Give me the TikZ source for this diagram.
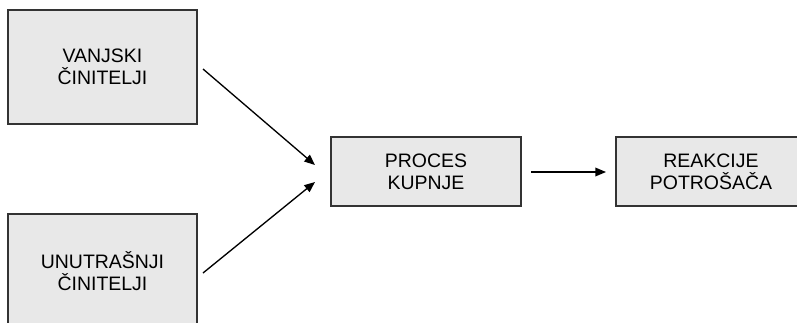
\documentclass[tikz,border=0pt]{standalone}
\usepackage{fontspec}
\setmainfont{Liberation Sans}
\usepackage{tikz}
\usetikzlibrary{arrows.meta}

\definecolor{boxfill}{HTML}{E8E8E8}
\definecolor{boxline}{HTML}{333333}

\tikzset{
    faktor/.style={draw=boxline, fill=boxfill, line width=0.8pt, align=center,
        inner sep=0pt, font=\fontsize{14.6}{16.5}\selectfont},
    tok/.style={line width=1pt, -{Triangle[length=8pt,width=6.5pt]}}
}

\begin{document}
\begin{tikzpicture}[x=0.75pt, y=-0.75pt]
    \useasboundingbox (0,0) rectangle (797,322);
    \clip (0,0) rectangle (797,322);

    \node[faktor, minimum width=141.75pt, minimum height=85.5pt] (vanjski) at (102.5,67) {VANJSKI\\ČINITELJI};
    \node[faktor, minimum width=141.75pt, minimum height=85.5pt] (unutarnji) at (102.5,271) {UNUTRAŠNJI\\ČINITELJI};
    \node[faktor, minimum width=142.5pt, minimum height=51.75pt] (proces) at (426,171.5) {PROCES\\KUPNJE};
    \node[faktor, minimum width=142.5pt, minimum height=51.75pt] (reakcije) at (711,171.5) {REAKCIJE\\POTROŠAČA};

    \coordinate (v-out) at (203,69);
    \coordinate (v-in) at (315,165);
    \coordinate (u-out) at (203,273);
    \coordinate (u-in) at (315,182);
    \coordinate (p-out) at (531,172);
    \coordinate (r-in) at (606,172);

    \draw[tok] (v-out) -- (v-in);
    \draw[tok] (u-out) -- (u-in);
    \draw[tok] (p-out) -- (r-in);
\end{tikzpicture}
\end{document}
